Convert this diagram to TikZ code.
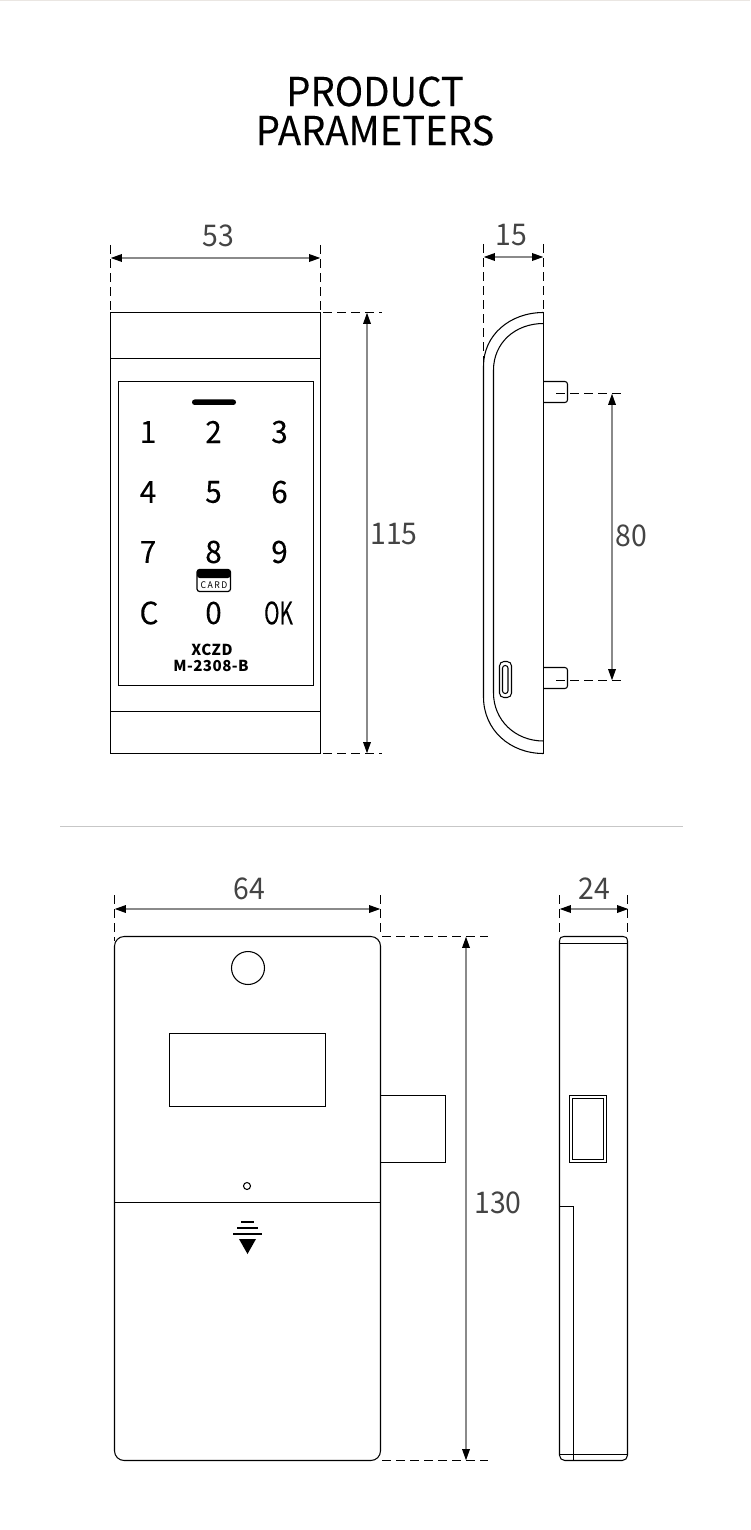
\documentclass[tikz,border=0pt]{standalone}
\usepackage{fontspec}
\setmainfont[FakeStretch=0.95]{Noto Sans CJK SC}
\newfontfamily\plainfont[LetterSpace=3]{Noto Sans CJK SC}
\newfontfamily\titlefont[FakeStretch=0.96,FakeBold=0.15]{Noto Sans CJK SC}
\usetikzlibrary{arrows.meta}
\definecolor{dimgray}{HTML}{8A8A8A}
\definecolor{numgray}{HTML}{444444}
\definecolor{edgegray}{HTML}{EAE6E2}
\tikzset{
  part/.style={draw=black,line width=0.6pt},
  dimline/.style={draw=dimgray,line width=1.15pt,{Triangle[black,length=6.5pt,width=4.2pt]}-{Triangle[black,length=6.5pt,width=4.2pt]}},
  extline/.style={draw=black,line width=0.6pt,dash pattern=on 5pt off 3pt},
  dimtext/.style={text=numgray,font=\fontsize{17}{20}\selectfont,inner sep=0pt},
  keytext/.style={text=black,font=\titlefont\fontsize{17.5}{20}\selectfont,inner sep=0pt},
  brandtext/.style={inner sep=0pt,font=\plainfont\fontsize{8.6}{9}\bfseries\selectfont},
  titletext/.style={inner sep=0pt,font=\titlefont\fontsize{22.7}{22.7}\selectfont},
}
\begin{document}
\begin{tikzpicture}[x=0.02cm,y=-0.02cm]
\useasboundingbox (0,0) rectangle (750,1530);
\fill[edgegray] (0,0) rectangle (750,1);

% title
\node[titletext] (title1) at (375,91.5) {PRODUCT};
\node[titletext] (title2) at (375,130.5) {PARAMETERS};

% front of the keypad
\draw[part] (110.5,312.5) rectangle (320.5,753.5);
\draw[part] (110.5,358.5) -- (320.5,358.5);
\draw[part] (110.5,711.5) -- (320.5,711.5);
\draw[part] (118.5,381.5) rectangle (313.5,685.5);
\fill[rounded corners=1.5pt] (192,399.5) rectangle (236,405);

\node[keytext] (k1) at (148,432) {1};
\node[keytext] (k2) at (213.5,432) {2};
\node[keytext] (k3) at (279.5,432) {3};
\node[keytext] (k4) at (148,492) {4};
\node[keytext] (k5) at (213.5,492) {5};
\node[keytext] (k6) at (279.5,492) {6};
\node[keytext] (k7) at (148,552) {7};
\node[keytext] (k8) at (213.5,552) {8};
\node[keytext] (k9) at (279.5,552) {9};
\node[keytext] (kc) at (149,613) {C};
\node[keytext] (k0) at (213.5,613) {0};
\node[keytext,xscale=0.7,transform shape] (kok) at (278.5,613) {OK};

% card mark
\draw[black,line width=0.7pt,rounded corners=1.5pt] (197,569.5) rectangle (230.5,591.5);
\fill[rounded corners=1.5pt] (197,569.5) rectangle (230.5,578);
\node[inner sep=0pt,font=\fontsize{5.2}{6}\selectfont,text=black] (card) at (214,585) {C\,A\,R\,D};

\node[brandtext] (brand) at (212,650) {XCZD};
\node[brandtext] (model) at (211,666) {M-2308-B};

% width 53
\coordinate (a1) at (110.5,245);
\coordinate (a2) at (110.5,312);
\coordinate (b1) at (320.5,245);
\coordinate (b2) at (320.5,312);
\coordinate (a3) at (110.5,258);
\coordinate (b3) at (320.5,258);
\draw[extline] (a1) -- (a2);
\draw[extline] (b1) -- (b2);
\draw[dimline] (a3) -- (b3);
\node[dimtext] (d53) at (218,236) {53};

% height 115
\coordinate (c1) at (323,312.5);
\coordinate (c2) at (382,312.5);
\coordinate (e1) at (323,753.5);
\coordinate (e2) at (382,753.5);
\coordinate (c3) at (367,312.5);
\coordinate (e3) at (367,753.5);
\draw[extline] (c1) -- (c2);
\draw[extline] (e1) -- (e2);
\draw[dimline] (c3) -- (e3);
\node[dimtext] (d115) at (394,534) {115};

% side of the keypad
\draw[part] (543.5,312.5) -- (543.5,753.5);
\draw[part] (543.5,312.5) .. controls (510,312.5) and (483.5,335) .. (483.5,366) -- (483.5,697) .. controls (483.5,730) and (510,753.5) .. (543.5,753.5);
\draw[part] (543.5,323.5) .. controls (515,323.5) and (493.5,343) .. (493.5,370) -- (493.5,693) .. controls (493.5,720) and (515,741) .. (543.5,741);
\draw[part,rounded corners=1.5pt] (543.5,381.5) -- (567.5,381.5) -- (567.5,402.5) -- (543.5,402.5);
\draw[part,rounded corners=1.5pt] (543.5,667.5) -- (567.5,667.5) -- (567.5,688.5) -- (543.5,688.5);
\draw[part,rounded corners=2.5pt] (499.5,661.5) rectangle (511.5,697.5);
\draw[part,rounded corners=1.5pt] (502.5,665.5) rectangle (508,693.5);

% depth 15
\coordinate (f1) at (483.5,244);
\coordinate (f2) at (483.5,365);
\coordinate (g1) at (543.5,244);
\coordinate (g2) at (543.5,312);
\coordinate (f3) at (483.5,257);
\coordinate (g3) at (543.5,257);
\draw[extline] (f1) -- (f2);
\draw[extline] (g1) -- (g2);
\draw[dimline] (f3) -- (g3);
\node[dimtext] (d15) at (511,235) {15};

% distance 80
\coordinate (h1) at (556,393.5);
\coordinate (h2) at (624,393.5);
\coordinate (i1) at (556,680.5);
\coordinate (i2) at (624,680.5);
\coordinate (h3) at (612,393.5);
\coordinate (i3) at (612,680.5);
\draw[extline] (h1) -- (h2);
\draw[extline] (i1) -- (i2);
\draw[dimline] (h3) -- (i3);
\node[dimtext] (d80) at (631,536) {80};

% divider
\draw[draw=black!22,line width=0.6pt] (60,826.5) -- (683,826.5);

% front of the lock
\draw[part,rounded corners=5.5pt] (114.5,936.5) rectangle (380.5,1460.5);
\draw[part] (248,968) circle (16.5);
\draw[part] (169.5,1033.5) rectangle (325.5,1106.5);
\draw[part] (380.5,1095.5) rectangle (445.5,1162.5);
\draw[part] (247,1186) circle (3.5);
\draw[part] (114.5,1202.5) -- (380.5,1202.5);
\draw[black,line width=0.7pt] (241,1222) -- (254,1222);
\draw[black,line width=0.7pt] (237,1228) -- (258,1228);
\draw[black,line width=0.7pt] (233,1234) -- (262,1234);
\fill (239,1239) -- (256,1239) -- (247.5,1254) -- cycle;

% width 64
\coordinate (j1) at (114.5,895);
\coordinate (j2) at (114.5,941);
\coordinate (l1) at (380.5,895);
\coordinate (l2) at (380.5,936);
\coordinate (j3) at (114.5,909);
\coordinate (l3) at (380.5,909);
\draw[extline] (j1) -- (j2);
\draw[extline] (l1) -- (l2);
\draw[dimline] (j3) -- (l3);
\node[dimtext] (d64) at (249,889) {64};

% height 130
\coordinate (m1) at (382,936.5);
\coordinate (m2) at (488,936.5);
\coordinate (n1) at (382,1460.5);
\coordinate (n2) at (488,1460.5);
\coordinate (m3) at (466,936.5);
\coordinate (n3) at (466,1460.5);
\draw[extline] (m1) -- (m2);
\draw[extline] (n1) -- (n2);
\draw[dimline] (m3) -- (n3);
\node[dimtext] (d130) at (498,1203) {130};

% side of the lock
\draw[part,rounded corners=3pt] (559.5,941) -- (559.5,1460.5) -- (627.5,1460.5) -- (627.5,941);
\draw[part] (559.5,941) .. controls (560,937.5) and (561,936.5) .. (564,936.5) -- (623,936.5) .. controls (626,936.5) and (627,937.5) .. (627.5,941);
\draw[part] (559.5,943.5) -- (627.5,943.5);
\draw[part] (559.5,1454.5) -- (627.5,1454.5);
\draw[part] (559.5,1206.5) -- (573.5,1206.5) -- (573.5,1460.5);
\draw[part] (569.5,1095.5) rectangle (606.5,1162.5);
\draw[part] (572.5,1098.5) rectangle (603.5,1159.5);

% width 24
\coordinate (o1) at (559.5,895);
\coordinate (o2) at (559.5,936);
\coordinate (p1) at (627.5,895);
\coordinate (p2) at (627.5,936);
\coordinate (o3) at (559.5,909);
\coordinate (p3) at (628.5,909);
\draw[extline] (o1) -- (o2);
\draw[extline] (p1) -- (p2);
\draw[dimline] (o3) -- (p3);
\node[dimtext] (d24) at (594.5,889) {24};
\end{tikzpicture}
\end{document}
